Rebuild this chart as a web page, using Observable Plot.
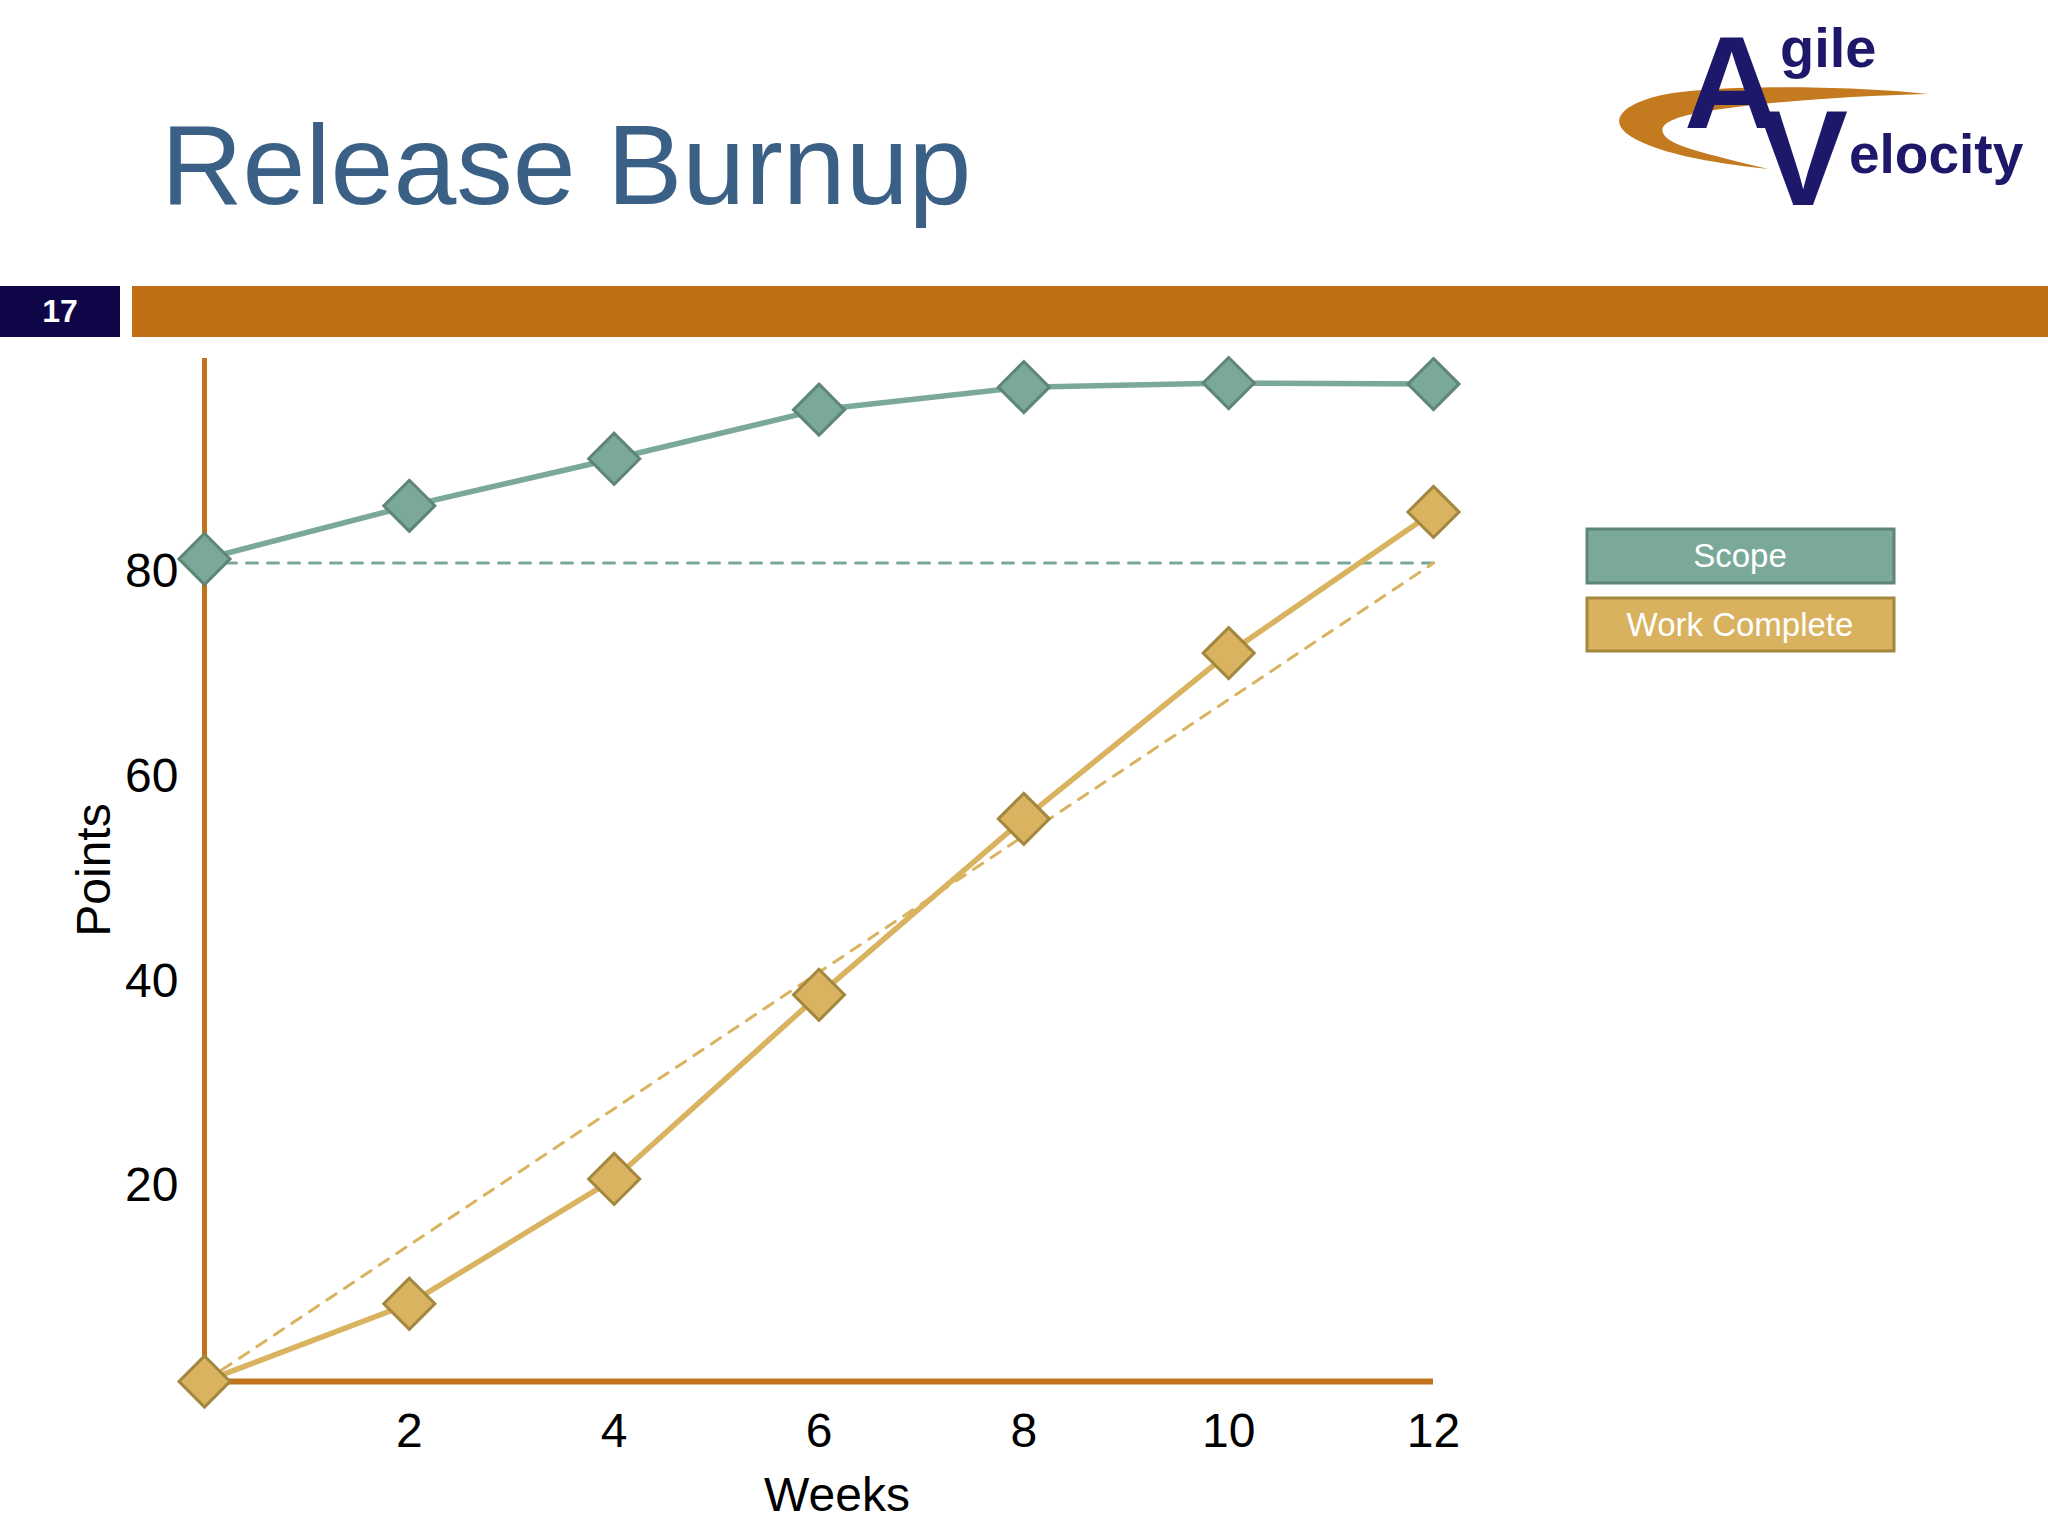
<!DOCTYPE html>
<html>
<head>
<meta charset="utf-8">
<script src="https://cdn.jsdelivr.net/npm/d3@7"></script>
<script src="https://cdn.jsdelivr.net/npm/@observablehq/plot@0.6"></script>
<style>
  html, body { margin: 0; padding: 0; background: #ffffff; }
  #page { position: relative; width: 2048px; height: 1536px; overflow: hidden; background: #ffffff; font-family: "Liberation Sans", Arial, sans-serif; }
  #chart { position: absolute; left: 0; top: 340px; }
  #overlay { position: absolute; left: 0; top: 0; }
</style>
</head>
<body>
<div id="page">
  <div id="chart"></div>
  <svg id="overlay" width="2048" height="1536" xmlns="http://www.w3.org/2000/svg">
    <!-- title -->
    <text x="161" y="204" font-family="Liberation Sans, Arial, sans-serif" font-size="113" fill="#3A6086">Release Burnup</text>
    <!-- slide number + bar -->
    <rect x="0" y="286" width="120" height="51" fill="#0E0646"/>
    <text x="60" y="322" text-anchor="middle" font-family="Liberation Sans, Arial, sans-serif" font-weight="bold" font-size="32" fill="#ffffff">17</text>
    <rect x="132" y="286" width="1916" height="51" fill="#BF7015"/>
    <!-- logo -->
    <path d="M1928,94 C1850,86 1720,84 1662,95 C1622,104 1610,120 1626,133 C1650,152 1710,163 1768,169 C1720,157 1682,149 1668,139 C1655,128 1664,119 1702,112 C1760,102 1850,96 1928,94 Z" fill="#C47A1E"/>
    <text x="1684" y="128" font-family="Liberation Sans, Arial, sans-serif" font-weight="bold" font-size="132" fill="#1E186A">A</text>
    <text x="1780" y="67" font-family="Liberation Sans, Arial, sans-serif" font-weight="bold" font-size="56" fill="#1E186A">gile</text>
    <text x="1758" y="205" font-family="Liberation Sans, Arial, sans-serif" font-weight="bold" font-size="135" fill="#1E186A">V</text>
    <text x="1849" y="173" font-family="Liberation Sans, Arial, sans-serif" font-weight="bold" font-size="55" fill="#1E186A">elocity</text>
    <!-- legend -->
    <rect x="1587" y="529" width="307" height="54" fill="#7BA999" stroke="#5F8577" stroke-width="3"/>
    <text x="1740" y="567" text-anchor="middle" font-family="Liberation Sans, Arial, sans-serif" font-size="33" fill="#ffffff">Scope</text>
    <rect x="1587" y="598" width="307" height="53" fill="#D9B25F" stroke="#A3873F" stroke-width="3"/>
    <text x="1740" y="636" text-anchor="middle" font-family="Liberation Sans, Arial, sans-serif" font-size="33" fill="#ffffff">Work Complete</text>
  </svg>
</div>
<script>
// ---- data ----
const weeks = [0, 2, 4, 6, 8, 10, 12];
const scope = [80.4, 85.6, 90.2, 95.0, 97.2, 97.6, 97.5];
const workComplete = [0, 7.6, 19.8, 37.8, 55.0, 71.2, 85.0];
const planWeeks = [0, 12];
const planScope = [80, 80];
const planWork = [0, 80];
const xTicks = [2, 4, 6, 8, 10, 12];
const yTicks = [20, 40, 60, 80];

const scopeRows = weeks.map((w, i) => ({week: w, points: scope[i]}));
const workRows = weeks.map((w, i) => ({week: w, points: workComplete[i]}));
const planScopeRows = planWeeks.map((w, i) => ({week: w, points: planScope[i]}));
const planWorkRows = planWeeks.map((w, i) => ({week: w, points: planWork[i]}));

const axisColor = "#C0731A";
const scopeFill = "#7BA999", scopeStroke = "#5F8577";
const workFill = "#D9B35F", workStroke = "#A3873F";

const chart = Plot.plot({
  width: 2048,
  height: 1196,
  marginLeft: 204,
  marginRight: 615,
  marginTop: 18,
  marginBottom: 155,
  style: {fontFamily: "Liberation Sans, Arial, sans-serif", background: "transparent", overflow: "visible"},
  x: {domain: [0, 12]},
  y: {domain: [0, 100]},
  marks: [
    Plot.ruleX([0], {y1: 0, y2: 100, stroke: axisColor, strokeWidth: 5}),
    Plot.ruleY([0], {x1: 0, x2: 12, stroke: axisColor, strokeWidth: 6}),
    Plot.axisX({ticks: xTicks, tickSize: 0, tickPadding: 31, fontSize: 48, fill: "#000", label: null}),
    Plot.axisY({ticks: yTicks, tickSize: 0, tickPadding: 26, fontSize: 48, fill: "#000", dy: 9, label: null}),
    Plot.text(["Weeks"], {frameAnchor: "bottom", textAnchor: "middle", dx: 18, dy: 129, fontSize: 48, fill: "#000"}),
    Plot.text(["Points"], {frameAnchor: "left", textAnchor: "middle", dx: -110, rotate: -90, fontSize: 48, fill: "#000"}),
    Plot.line(planScopeRows, {x: "week", y: "points", stroke: scopeFill, strokeWidth: 3, strokeDasharray: "11,10"}),
    Plot.line(planWorkRows, {x: "week", y: "points", stroke: workFill, strokeWidth: 3, strokeDasharray: "11,10"}),
    Plot.line(scopeRows, {x: "week", y: "points", stroke: scopeFill, strokeWidth: 5.5}),
    Plot.line(workRows, {x: "week", y: "points", stroke: workFill, strokeWidth: 5.5}),
    Plot.dot(scopeRows, {x: "week", y: "points", symbol: "diamond2", r: 23, fill: scopeFill, stroke: scopeStroke, strokeWidth: 3}),
    Plot.dot(workRows, {x: "week", y: "points", symbol: "diamond2", r: 23, fill: workFill, stroke: workStroke, strokeWidth: 3})
  ]
});
document.getElementById("chart").appendChild(chart);
</script>
</body>
</html>
